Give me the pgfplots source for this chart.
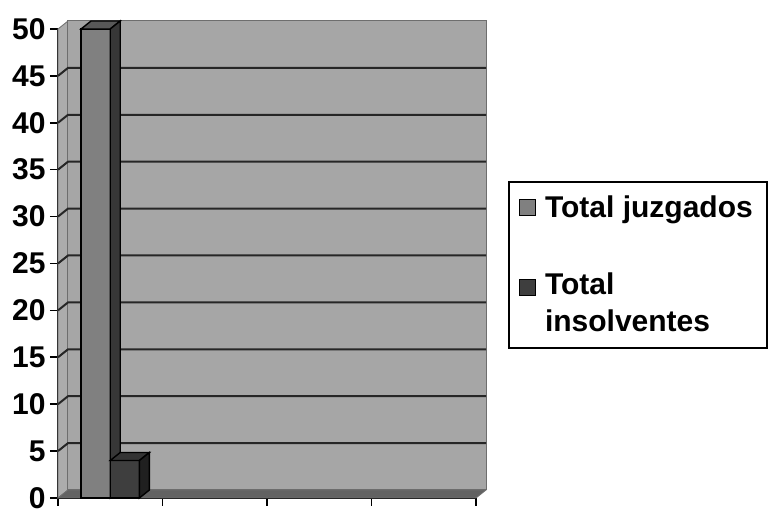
\documentclass[border=0pt]{standalone}
\usepackage{pgfplots}
\pgfplotsset{compat=1.18}
\usepackage{fontspec}
\setmainfont{Liberation Sans}
\definecolor{wall}{RGB}{166,166,166}
\definecolor{lwall}{RGB}{172,172,172}
\definecolor{floorc}{RGB}{98,98,98}
\definecolor{wallline}{RGB}{110,110,110}
\definecolor{bAfront}{RGB}{128,128,128}
\definecolor{bAtop}{RGB}{88,88,88}
\definecolor{bAside}{RGB}{55,55,55}
\definecolor{bBfront}{RGB}{62,62,62}
\definecolor{bBtop}{RGB}{52,52,52}
\definecolor{bBside}{RGB}{32,32,32}
\begin{document}
\begin{tikzpicture}
\begin{axis}[
  x=52.25pt, y=4.69pt,
  xmin=0, xmax=4, ymin=0, ymax=50,
  clip=false,
  separate axis lines,
  axis x line*=bottom, axis y line*=left,
  axis line style={-, line width=0.8pt, black},
  xtick={0,1,2,3,4}, xticklabels={},
  ytick={0,5,...,50},
  tick align=outside,
  major tick length=4pt,
  tick style={line width=0.8pt, black},
  /pgf/number format/assume math mode=true,
  yticklabel style={font=\bfseries\fontsize{15}{17}\selectfont, inner xsep=2pt},
  legend style={at={(axis description cs:1.0766,0.676)}, anchor=north west,
    draw=black, line width=0.8pt, inner xsep=5pt, inner ysep=5pt, row sep=22pt, column sep=2.5pt,
    font=\bfseries\fontsize{15}{18.5}\selectfont,
    cells={anchor=west, align=left}},
]
% walls
\addplot[fill=lwall, draw=wallline, line width=0.4pt, forget plot] coordinates {(0,0) (0.0957,0.853) (0.0957,50.853) (0,50)} -- cycle;
\addplot[fill=wall, draw=wallline, line width=0.5pt, forget plot] coordinates {(0.0957,0.853) (4.0957,0.853) (4.0957,50.853) (0.0957,50.853)} -- cycle;
\addplot[fill=floorc, draw=wallline, line width=0.4pt, forget plot] coordinates {(0,0) (4,0) (4.0957,0.853) (0.0957,0.853)} -- cycle;
% grid lines on walls
\pgfplotsinvokeforeach{5,10,...,45}{
  \draw[black!85, line width=1pt] (axis cs:0,#1) -- ([shift={(5pt,4pt)}]axis cs:0,#1) -- ([shift={(5pt,4pt)}]axis cs:4,#1);
}
% bar 1: Total juzgados
\addplot[ybar, bar width=14.6pt, bar shift=-7.3pt, fill=bAfront, draw=black, line width=0.7pt,
  legend image code/.code={\draw[fill=bAfront, draw=black, line width=0.6pt] (0pt,-3.6pt) rectangle (8pt,4.4pt);}]
  coordinates {(0.5,50)};
\addlegendentry{Total juzgados}
\addplot[fill=bAtop, draw=black, line width=0.7pt, forget plot] coordinates {(0.2206,50) (0.5,50) (0.5957,50.853) (0.3163,50.853)} -- cycle;
\addplot[fill=bAside, draw=black, line width=0.7pt, forget plot] coordinates {(0.5,0) (0.5957,0.853) (0.5957,50.853) (0.5,50)} -- cycle;
% bar 2: Total insolventes
\addplot[ybar, bar width=14.6pt, bar shift=7.3pt, fill=bBfront, draw=black, line width=0.7pt,
  legend image code/.code={\draw[fill=bBfront, draw=black, line width=0.6pt] (0pt,4.05pt) rectangle (8pt,12.05pt);}]
  coordinates {(0.5,4)};
\addlegendentry{Total\\insolventes}
\addplot[fill=bBtop, draw=black, line width=0.7pt, forget plot] coordinates {(0.5,4) (0.7794,4) (0.8751,4.853) (0.5957,4.853)} -- cycle;
\addplot[fill=bBside, draw=black, line width=0.7pt, forget plot] coordinates {(0.7794,0) (0.8751,0.853) (0.8751,4.853) (0.7794,4)} -- cycle;
% page frame matching reference proportions
\path (axis cs:0,0) ++(-29pt,-10pt) rectangle ++(386pt,259pt);
\end{axis}
\end{tikzpicture}
\end{document}
